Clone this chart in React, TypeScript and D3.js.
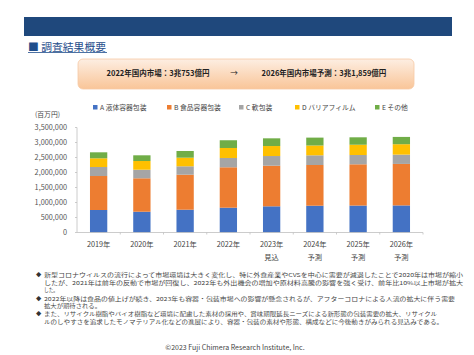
import React from "react";
import * as d3 from "d3";

const years = ["2019年", "2020年", "2021年", "2022年", "2023年", "2024年", "2025年", "2026年"];
const subLabels = ["", "", "", "", "見込", "予測", "予測", "予測"];
const seriesNames = ["A 液体容器包装", "B 食品容器包装", "C 軟包装", "D バリアフィルム", "E その他"];
const seriesColors = ["#4472C4", "#ED7D31", "#A5A5A5", "#FFC000", "#70AD47"];
const seriesA = [750000, 693000, 760000, 827000, 873000, 893000, 898000, 903000];
const seriesB = [1133000, 1114000, 1167000, 1347000, 1353000, 1357000, 1375000, 1383000];
const seriesC = [300000, 286000, 280000, 310000, 323000, 323000, 310000, 310000];
const seriesD = [290000, 290000, 287000, 333000, 333000, 327000, 343000, 347000];
const seriesE = [200000, 190000, 223000, 258000, 257000, 263000, 247000, 243000];
const yTicks = [0, 500000, 1000000, 1500000, 2000000, 2500000, 3000000, 3500000];

const bullets: { lines: string[]; widths: (number | null)[] }[] = [
  {
    lines: [
      "新型コロナウイルスの流行によって市場環境は大きく変化し、特に外食産業やCVSを中心に需要が減退したことで2020年は市場が縮小",
      "したが、2021年は前年の反動で市場が回復し、2022年も外出機会の増加や原材料高騰の影響を強く受け、前年比10%以上市場が拡大",
      "した。",
    ],
    widths: [419, 419, 14],
  },
  {
    lines: [
      "2022年以降は食品の値上げが続き、2023年も容器・包装市場への影響が懸念されるが、アフターコロナによる人流の拡大に伴う需要",
      "拡大が期待される。",
    ],
    widths: [411, 57],
  },
  {
    lines: [
      "また、リサイクル樹脂やバイオ樹脂など環境に配慮した素材の採用や、賞味期限延長ニーズによる新形態の包装需要の拡大、リサイクル",
      "ルのしやすさを追求したモノマテリアル化などの進展により、容器・包装の素材や形態、構成などに今後動きがみられる見込みである。",
    ],
    widths: [393, 399],
  },
];

const FONT = "'Noto Sans CJK JP', 'Noto Sans', sans-serif";

export default function App() {
  const W = 474;
  const H = 355;
  const allSeries = [seriesA, seriesB, seriesC, seriesD, seriesE];
  const rows = years.map((y, i) => {
    const r: any = { year: y };
    allSeries.forEach((s, k) => (r["s" + k] = s[i]));
    return r;
  });
  const stack = d3.stack<any>().keys(allSeries.map((_, k) => "s" + k))(rows);

  const x = d3.scaleBand<string>().domain(years).range([77, 423]).padding(0);
  const y = d3.scaleLinear().domain([0, 3500000]).range([232.5, 127.5]);
  const bw = x.bandwidth() * 0.4;
  const fmt = d3.format(",");

  const legendX = [93, 167, 239, 295, 375];

  let lineY = 275;
  const bulletEls: any[] = [];
  bullets.forEach((b, bi) => {
    b.lines.forEach((ln, li) => {
      if (li === 0) {
        bulletEls.push(
          <text key={`b${bi}`} x={36} y={lineY + 2} fontSize={5.3} fill="#333">◆</text>
        );
      }
      const w = b.widths[li];
      bulletEls.push(
        <text
          key={`l${bi}-${li}`}
          x={44}
          y={lineY + 2}
          fontSize={5.3}
          fill="#444"
          textLength={w as number}
          lengthAdjust="spacingAndGlyphs"
        >
          {ln}
        </text>
      );
      lineY += li === b.lines.length - 1 ? 8.1 : 7.7;
    });
  });

  return (
    <svg width={W} height={H} style={{ position: "absolute", left: 0, top: 0, fontFamily: FONT }}>
      <defs>
        <linearGradient id="boxg" x1="0" y1="0" x2="0" y2="1">
          <stop offset="0%" stopColor="#fdeee2" />
          <stop offset="100%" stopColor="#f9c598" />
        </linearGradient>
      </defs>
      <rect x={0} y={0} width={W} height={H} fill="#fff" />
      <rect x={24} y={17} width={428} height={19} fill="#1f487c" />
      <text x={28} y={50.5} fontSize={10.5} fill="#1f4e8c" textLength={78} lengthAdjust="spacingAndGlyphs">■ 調査結果概要</text>
      <line x1={28} x2={107} y1={52.5} y2={52.5} stroke="#1f4e8c" strokeWidth={0.8} />

      <rect x={78} y={59} width={336} height={30} rx={5} fill="url(#boxg)" stroke="#f6c9a4" strokeWidth={0.8} />
      <text x={158} y={76} fontSize={7.5} fontWeight="bold" fill="#222" textAnchor="middle">2022年国内市場：3兆753億円</text>
      <text x={234} y={76} fontSize={7.5} fill="#222" textAnchor="middle">→</text>
      <text x={324} y={76} fontSize={7.5} fontWeight="bold" fill="#222" textAnchor="middle">2026年国内市場予測：3兆1,859億円</text>

      {seriesNames.map((n, k) => (
        <g key={n}>
          <rect x={legendX[k]} y={105} width={4.5} height={4.5} fill={seriesColors[k]} />
          <text x={legendX[k] + 7} y={110} fontSize={6.8} fill="#444">{n}</text>
        </g>
      ))}

      <text x={35} y={116.5} fontSize={6.8} fill="#444">(百万円)</text>

      {yTicks.map((t) => (
        <g key={t}>
          <text x={67} y={y(t) + 2.5} fontSize={7.3} fill="#555" textAnchor="end">{fmt(t)}</text>
          <line x1={75} x2={77} y1={y(t)} y2={y(t)} stroke="#bfbfbf" strokeWidth={0.8} />
        </g>
      ))}
      <line x1={77} x2={77} y1={y(3500000)} y2={y(0)} stroke="#bfbfbf" strokeWidth={0.8} />

      {stack.map((layer, k) => (
        <g key={k} fill={seriesColors[k]}>
          {layer.map((d: any, i: number) => (
            <rect
              key={i}
              x={(x(years[i]) as number) + (x.bandwidth() - bw) / 2}
              y={y(d[1])}
              width={bw}
              height={y(d[0]) - y(d[1])}
            />
          ))}
        </g>
      ))}

      <line x1={77} x2={423} y1={y(0)} y2={y(0)} stroke="#bfbfbf" strokeWidth={0.8} />
      {years.map((yr) => (
        <line
          key={"t" + yr}
          x1={(x(yr) as number) + x.bandwidth()}
          x2={(x(yr) as number) + x.bandwidth()}
          y1={y(0)}
          y2={y(0) + 2}
          stroke="#bfbfbf"
          strokeWidth={0.8}
        />
      ))}
      {years.map((yr, i) => (
        <g key={"xl" + yr}>
          <text x={(x(yr) as number) + x.bandwidth() / 2} y={247} fontSize={7.3} fill="#444" textAnchor="middle">{yr}</text>
          {subLabels[i] && (
            <text x={(x(yr) as number) + x.bandwidth() / 2} y={260} fontSize={7.3} fill="#444" textAnchor="middle">{subLabels[i]}</text>
          )}
        </g>
      ))}

      {bulletEls}

      <text x={235} y={350} fontSize={7} fill="#444" textAnchor="middle">©2023 Fuji Chimera Research Institute, Inc.</text>
    </svg>
  );
}
